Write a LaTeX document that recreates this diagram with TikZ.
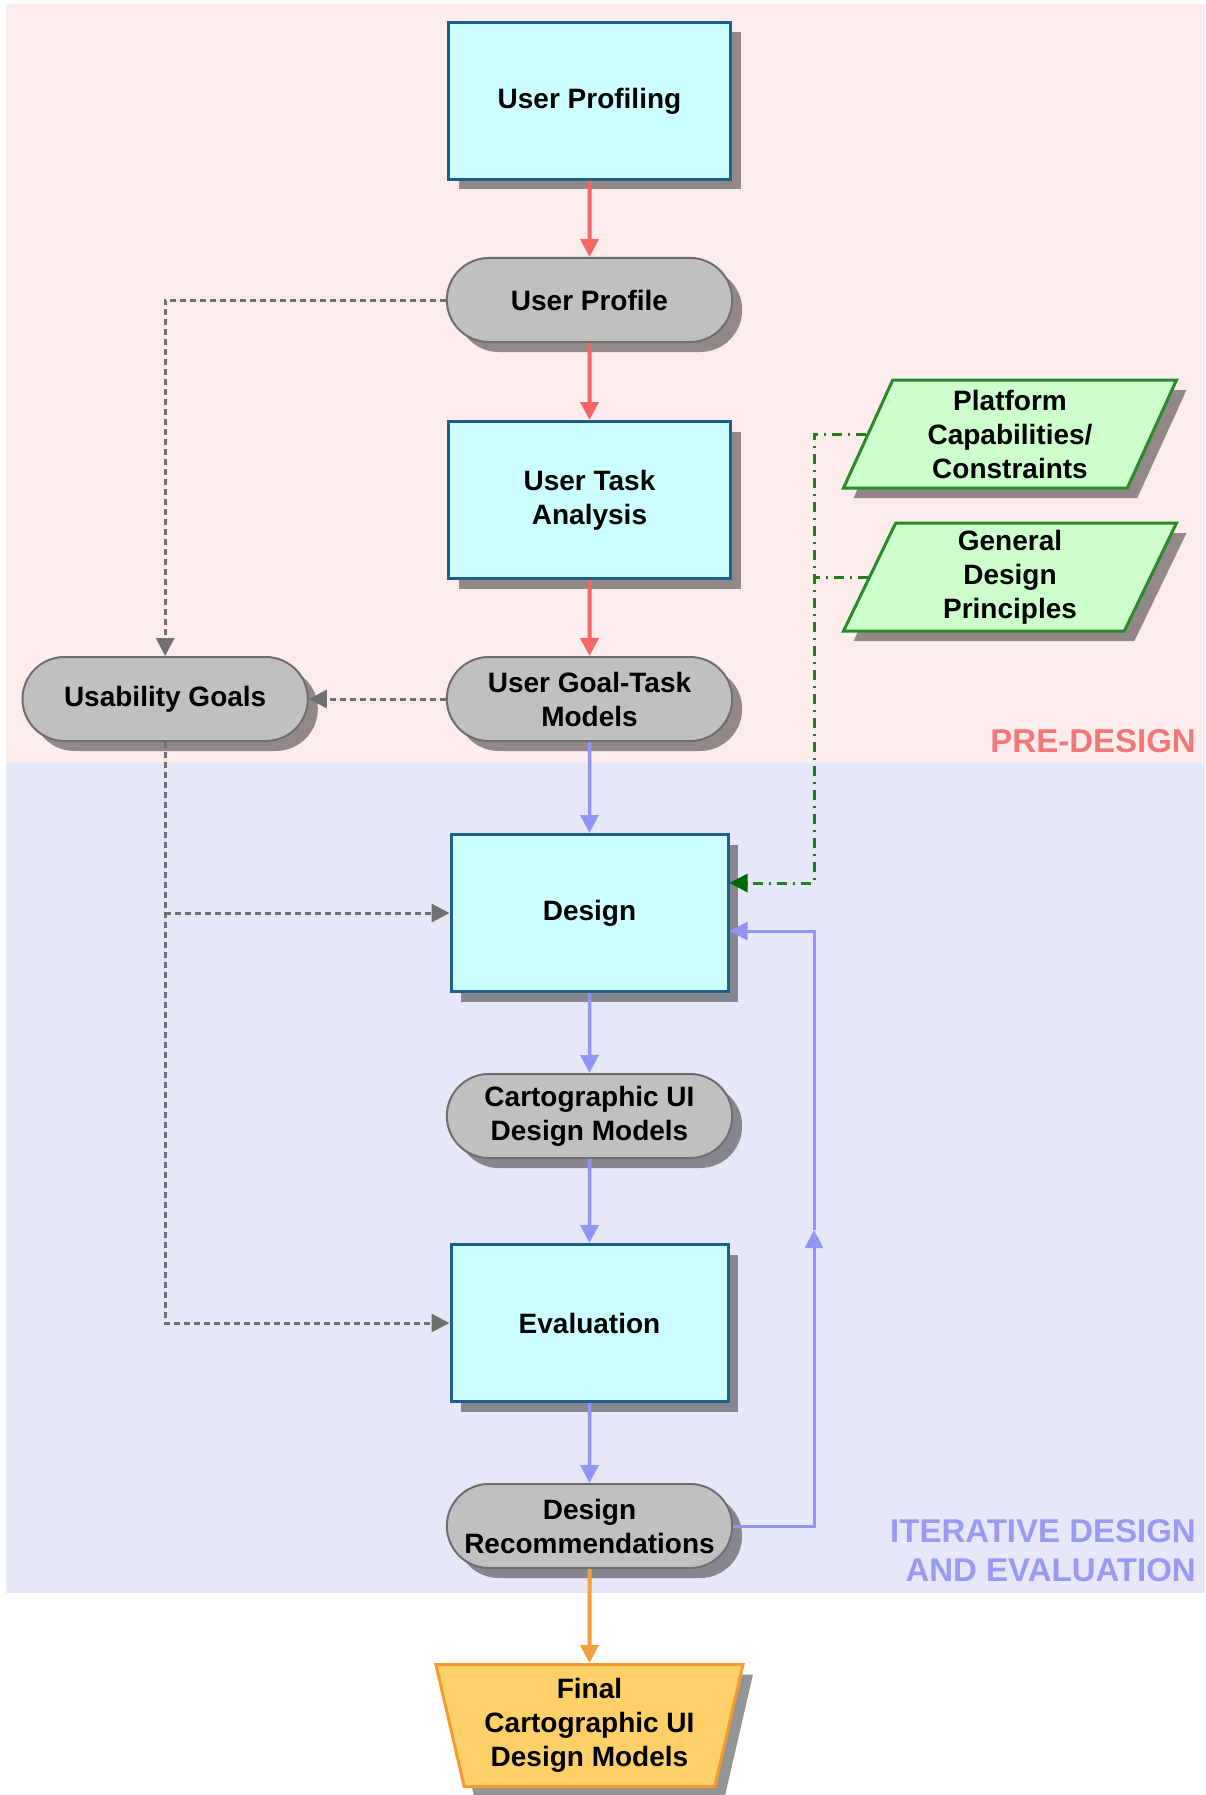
\documentclass[tikz,border=0pt]{standalone}
\usepackage{fontspec}
\setmainfont{Liberation Sans}
\usepackage{xcolor}
\usepackage{tikz}
\usetikzlibrary{shapes.geometric, shapes.misc, arrows.meta, positioning, calc, shadows}
\definecolor{cPre}{HTML}{FDECEC}
\definecolor{cIter}{HTML}{E7E7FA}
\definecolor{cBox}{HTML}{CCFFFF}
\definecolor{cBoxLine}{HTML}{1C5E8C}
\definecolor{cPill}{HTML}{C0C0C0}
\definecolor{cPillLine}{HTML}{6E6E6E}
\definecolor{cIn}{HTML}{CCFFCC}
\definecolor{cInLine}{HTML}{2A8A2A}
\definecolor{cFin}{HTML}{FFD068}
\definecolor{cFinLine}{HTML}{F59A30}
\definecolor{cRed}{HTML}{F26868}
\definecolor{cBlue}{HTML}{9494F2}
\definecolor{cGray}{HTML}{707070}
\definecolor{cGreen}{HTML}{1F7F1F}
\definecolor{cDkGreen}{HTML}{006600}
\definecolor{cOrange}{HTML}{F5A040}
\definecolor{cPreText}{HTML}{F07878}
\definecolor{cIterText}{HTML}{9A9AF0}
\newcommand{\boxfont}{\fontsize{28}{34}\selectfont\bfseries}
\newcommand{\secfont}{\fontsize{33}{39}\selectfont\bfseries}
\tikzstyle{boxshadow} = [drop shadow={shadow xshift=10pt, shadow yshift=-10pt, fill=black, opacity=0.42}]
\tikzstyle{proc}  = [rectangle, draw=cBoxLine, line width=3pt, fill=cBox, minimum width=282pt, minimum height=157pt, align=center, font=\boxfont, boxshadow]
\tikzstyle{pill}  = [rounded rectangle, draw=cPillLine, line width=2pt, fill=cPill, minimum width=292pt, minimum height=84pt, align=center, font=\boxfont, boxshadow]
\tikzstyle{inp}   = [trapezium, trapezium left angle=62, trapezium right angle=118, trapezium stretches body, draw=cInLine, line width=3pt, fill=cIn, minimum width=333pt, minimum height=108pt, inner sep=2pt, align=center, font=\boxfont, boxshadow]
\tikzstyle{fin}   = [trapezium, trapezium left angle=106, trapezium right angle=106, trapezium stretches body, draw=cFinLine, line width=3pt, fill=cFin, minimum width=307pt, minimum height=122pt, inner sep=2pt, align=center, font=\boxfont, boxshadow]
\tikzstyle{arrow} = [line width=4pt, -{Triangle[length=18pt,width=18pt]}]
\tikzstyle{dasharrow} = [line width=3pt, cGray, dash pattern=on 6pt off 4pt, -{Triangle[length=18pt,width=18pt]}]
\tikzstyle{dotdash} = [line width=3pt, cGreen, dash pattern=on 10pt off 6pt on 2pt off 6pt]
\begin{document}
\begin{tikzpicture}[x=1pt, y=-1pt, node distance=76pt]
\useasboundingbox (0,0) rectangle (1205,1795);
\fill [cPre] (6,4) rectangle (1205,763);
\fill [cIter] (6,763) rectangle (1205,1593);

\node (prof) [proc] at (589.5,101) {User Profiling};
\node (profile) [pill, below=of prof] {User Profile};
\node (task) [proc, below=77pt of profile] {User Task\\Analysis};
\node (goalm) [pill, below=of task] {User Goal-Task\\Models};
\node (usab) [pill, left=137pt of goalm] {Usability Goals};
\node (design) [proc, minimum width=277pt, below=91pt of goalm] {Design};
\node (carto) [pill, below=80pt of design] {Cartographic UI\\Design Models};
\node (eval) [proc, minimum width=277pt, below=84pt of carto] {Evaluation};
\node (rec) [pill, below=80pt of eval] {Design\\Recommendations};
\node (final) [fin, below=94pt of rec] {Final\\Cartographic UI\\Design Models};
\node (plat) [inp] at (1010,434) {Platform\\Capabilities/\\Constraints};
\node (gen) [inp, below=32pt of plat] {General\\Design\\Principles};
\node (pre) [anchor=base east, inner sep=0pt, text=cPreText, font=\secfont] at (1196,752) {PRE-DESIGN};
\node (iter) [anchor=north east, inner sep=0pt, align=right, text=cIterText, font=\secfont] at (1196,1519) {ITERATIVE DESIGN\\AND EVALUATION};
\coordinate (gx) at (814,0);
\coordinate (fbmid) at (814,1230);

\draw [arrow, cRed] (prof) -- (profile);
\draw [arrow, cRed] (profile) -- (task);
\draw [arrow, cRed] (task) -- (goalm);
\draw [arrow, cBlue, line width=3.5pt] (goalm) -- (design);
\draw [arrow, cBlue, line width=3.5pt] (design) -- (carto);
\draw [arrow, cBlue, line width=3.5pt] (carto) -- (eval);
\draw [arrow, cBlue, line width=3.5pt] (eval) -- (rec);
\draw [arrow, cOrange] (rec) -- (final);
\draw [arrow, cBlue, line width=3pt] (rec.east) -| (fbmid);
\draw [arrow, cBlue, line width=3pt] (fbmid) |- ([yshift=-18pt]design.east);
\draw [dasharrow] (profile.west) -| (usab.north);
\draw [dasharrow] (goalm.west) -- (usab.east);
\draw [dasharrow] (usab.south) |- (eval.west);
\draw [dasharrow] (usab.south |- design.west) -- (design.west);
\draw [dotdash, -{Triangle[length=18pt,width=18pt,color=cDkGreen]}] (plat.west) -- (plat.west -| gx) |- ([yshift=30pt]design.east);
\draw [dotdash] (gen.west) -- (gen.west -| gx);
\end{tikzpicture}
\end{document}
